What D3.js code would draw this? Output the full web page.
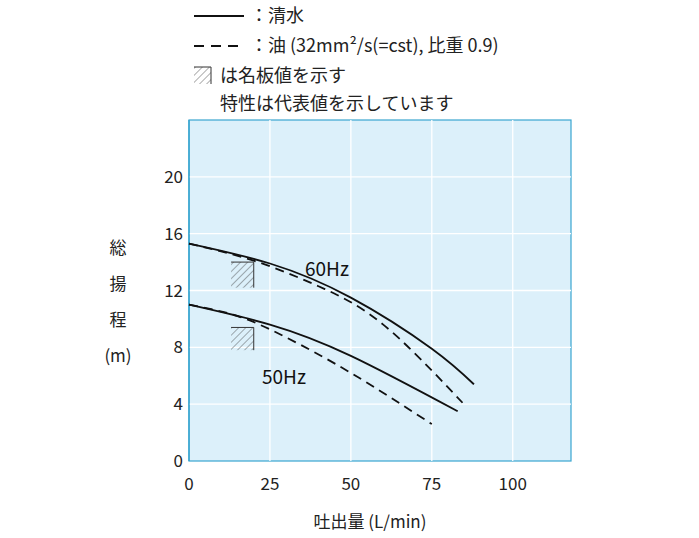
<!DOCTYPE html><html><head><meta charset="utf-8"><script src="https://cdn.jsdelivr.net/npm/d3@7"></script>
<style>body{margin:0;background:#fff}text{font-family:"Noto Sans CJK JP","Noto Sans",sans-serif}</style></head><body><svg id="c" width="699" height="538"></svg><script>
const xTicks=[0,25,50,75,100], yTicks=[0,4,8,12,16,20];
const solid60=[[0,15.3],[25,13.9],[50,11.5],[75,7.9],[88,5.4]];
const dash60=[[0,15.3],[20,14.1],[40,12.3],[60,9.6],[84.5,4.1]];
const solid50=[[0,11],[25,9.6],[50,7.4],[83,3.5]];
const dash50=[[0,11],[15,10.2],[30,8.7],[50,6.2],[75,2.6]];
const rated=[[20,14,12.2],[20,9.4,7.8]];
const svg=d3.select("#c");
const x=d3.scaleLinear([0,118],[189,571]), y=d3.scaleLinear([0,24],[461,120]);
const defs=svg.append("defs");
const p=defs.append("pattern").attr("id","h").attr("width",5).attr("height",5).attr("patternUnits","userSpaceOnUse").attr("patternTransform","rotate(45)");
p.append("line").attr("x1",0).attr("y1",0).attr("x2",0).attr("y2",5).attr("stroke","#333").attr("stroke-width",0.8);
svg.append("rect").attr("x",x(0)).attr("y",y(24)).attr("width",x(118)-x(0)).attr("height",y(0)-y(24)).attr("fill","#dcf0fa").attr("stroke","#3aa6d0").attr("stroke-width",1.2);
svg.selectAll(".gx").data(xTicks.slice(1)).join("line").attr("x1",x).attr("x2",x).attr("y1",y(24)).attr("y2",y(0)).attr("stroke","#fff").attr("stroke-width",1.3);
svg.selectAll(".gy").data(yTicks.slice(1)).join("line").attr("y1",y).attr("y2",y).attr("x1",x(0)).attr("x2",x(118)).attr("stroke","#fff").attr("stroke-width",1.3);
svg.append("line").attr("x1",x(0)).attr("x2",x(0)).attr("y1",y(24)).attr("y2",y(0)).attr("stroke","#3aa6d0").attr("stroke-width",1.5);
svg.selectAll(".xt").data(xTicks).join("text").attr("x",x).attr("y",490).attr("text-anchor","middle").attr("font-size",17).attr("fill","#222").text(d=>d);
svg.selectAll(".yt").data(yTicks).join("text").attr("x",183).attr("y",d=>y(d)+6).attr("text-anchor","end").attr("font-size",17).attr("fill","#222").text(d=>d);
rated.forEach(r=>{svg.append("rect").attr("x",x(13)).attr("y",y(r[1])).attr("width",x(r[0])-x(13)).attr("height",y(r[2])-y(r[1])).attr("fill","url(#h)");
svg.append("path").attr("d",`M${x(13)},${y(r[1])}H${x(r[0])}V${y(r[2])}`).attr("fill","none").attr("stroke","#333").attr("stroke-width",1);});
const ln=d3.line().x(d=>x(d[0])).y(d=>y(d[1])).curve(d3.curveNatural);
[[solid60,null],[solid50,null],[dash60,"9,6"],[dash50,"9,6"]].forEach(([d,da])=>svg.append("path").attr("d",ln(d)).attr("fill","none").attr("stroke","#111").attr("stroke-width",1.8).attr("stroke-dasharray",da));
svg.append("text").attr("x",305).attr("y",276).attr("font-size",19).attr("fill","#111").text("60Hz");
svg.append("text").attr("x",262).attr("y",384).attr("font-size",19).attr("fill","#111").text("50Hz");
["総","揚","程","(m)"].forEach((t,i)=>svg.append("text").attr("x",118).attr("y",254+i*36).attr("text-anchor","middle").attr("font-size",17).attr("fill","#222").text(t));
svg.append("text").attr("x",370).attr("y",528).attr("text-anchor","middle").attr("font-size",17).attr("fill","#222").text("吐出量 (L/min)");
svg.append("line").attr("x1",194).attr("x2",244).attr("y1",16).attr("y2",16).attr("stroke","#111").attr("stroke-width",2);
svg.append("line").attr("x1",194).attr("x2",244).attr("y1",46).attr("y2",46).attr("stroke","#111").attr("stroke-width",2).attr("stroke-dasharray","10,7");
const lt=[[250,22,"：清水"],[250,52,"：油 (32mm²/s(=cst), 比重 0.9)"],[220,82,"は名板値を示す"],[220,110,"特性は代表値を示しています"]];
lt.forEach(([a,b,t])=>svg.append("text").attr("x",a).attr("y",b).attr("font-size",18).attr("fill","#222").text(t));
svg.append("rect").attr("x",194).attr("y",67).attr("width",17).attr("height",17).attr("fill","url(#h)");
svg.append("path").attr("d","M194,67H211V84").attr("fill","none").attr("stroke","#333");
</script></body></html>
